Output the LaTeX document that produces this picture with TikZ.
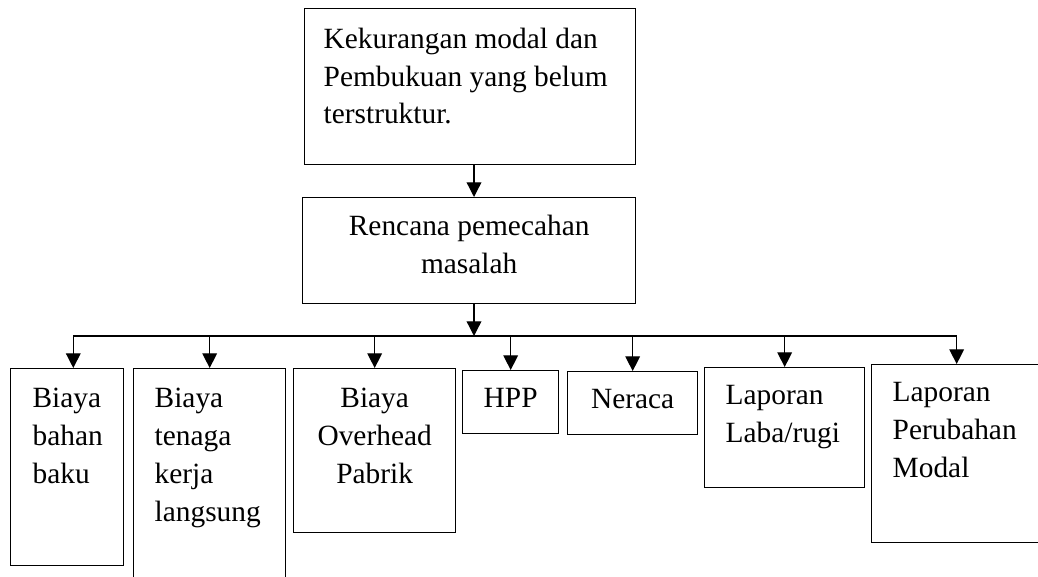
\documentclass[tikz,border=0pt]{standalone}
\usepackage{fontspec}
\setmainfont{Liberation Serif}
\usepackage{tikz}
\usetikzlibrary{
        arrows.meta,
        positioning
    }
\newcommand{\pxu}{0.4425pt}
\tikzset{>={Triangle[length=6.5pt,width=6.5pt]},x=\pxu,y=-\pxu}
\tikzset{box/.style 2 args={draw,rectangle,inner sep=0pt,anchor=north west,
                 minimum width=#1*\pxu,minimum height=#2*\pxu}}
\tikzset{txt/.style={inner sep=0pt,font=\fontsize{13}{16.8}\selectfont}}

\begin{document}
\begin{tikzpicture}[line width=0.6pt]
\useasboundingbox (0,0) rectangle (1038,576);
\clip (0,0) rectangle (1038,576);
    % kotak atas
    \node[box={331}{156}] (kurang) at (304,8) {};
    \node[txt,align=left,below right=8.4pt and 8.4pt of kurang.north west] {
                Kekurangan modal dan\\
                Pembukuan yang belum\\
                terstruktur.};
    \node[box={333}{106}] (rencana) at (302,197) {};
    \node[txt,align=center,below=7.9pt of rencana.north] {
                Rencana pemecahan\\
                masalah};
    % baris bawah
    \node[box={113}{197}] (bahan)    at (10,368)  {};
    \node[box={152}{230}] (tenaga)   at (133,368) {};
    \node[box={162}{164}] (overhead) at (293,368) {};
    \node[box={96}{63}]   (hpp)      at (462,370) {};
    \node[box={130}{63}]  (neraca)   at (567,371) {};
    \node[box={160}{120}] (labarugi) at (704,367) {};
    \node[box={170}{178}] (modal)    at (871,364) {};
    \node[txt,align=left,below right=8.4pt and 9.7pt of bahan.north west]
                {Biaya\\bahan\\baku};
    \node[txt,align=left,below right=8.4pt and 9.3pt of tenaga.north west]
                {Biaya\\tenaga\\kerja\\langsung};
    \node[txt,align=center,below=8.4pt of overhead.north]
                {Biaya\\Overhead\\Pabrik};
    \node[txt,below=7.7pt of hpp.north] {HPP};
    \node[txt,below=7.7pt of neraca.north] {Neraca};
    \node[txt,align=left,below right=7.9pt and 9.3pt of labarugi.north west]
                {Laporan\\Laba/rugi};
    \node[txt,align=left,below right=7.9pt and 9.3pt of modal.north west]
                {Laporan\\Perubahan\\Modal};
    % cabang
    \coordinate (cabang) at (474,336);
    \coordinate (bahanatas) at ([xshift=2.7pt]bahan.north);
    \draw (bahanatas |- cabang) -- (modal.north |- cabang);
    \path[->]
        (kurang.south -| cabang)  edge  (rencana.north -| cabang)
        (rencana.south -| cabang) edge  (cabang)
        (bahanatas |- cabang)     edge  (bahanatas)
        ;
    \foreach \n in {tenaga,overhead,hpp,neraca,labarugi,modal}
        \draw[->] (\n.north |- cabang) -- (\n.north);
\end{tikzpicture}
\end{document}
